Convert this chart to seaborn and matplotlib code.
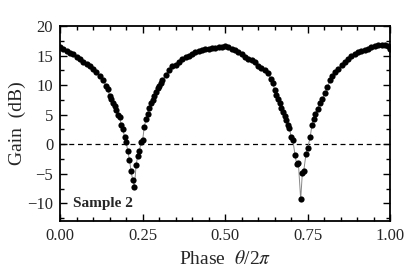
import matplotlib
matplotlib.use('Agg')
import matplotlib.pyplot as plt
from matplotlib.ticker import MultipleLocator
import pandas as pd
import seaborn as sns

# phase (theta / 2pi) and gain (dB)
phase = [0.000, 0.010, 0.020, 0.030, 0.040, 0.050, 0.060, 0.070, 0.080, 0.090,
         0.100, 0.110, 0.120, 0.130, 0.140, 0.145, 0.150, 0.155, 0.160, 0.165,
         0.170, 0.175, 0.180, 0.185, 0.190, 0.195, 0.200, 0.205, 0.210, 0.215,
         0.220, 0.225, 0.230, 0.235, 0.240, 0.245, 0.250, 0.255, 0.260, 0.265,
         0.270, 0.275, 0.280, 0.285, 0.290, 0.295, 0.300, 0.305, 0.310, 0.320,
         0.330, 0.340, 0.350, 0.360, 0.370, 0.380, 0.390, 0.400, 0.410, 0.420,
         0.430, 0.440, 0.450, 0.460, 0.470, 0.480, 0.490, 0.500, 0.510, 0.520,
         0.530, 0.540, 0.550, 0.560, 0.570, 0.580, 0.590, 0.600, 0.610, 0.620,
         0.630, 0.640, 0.645, 0.650, 0.655, 0.660, 0.665, 0.670, 0.675, 0.680,
         0.685, 0.690, 0.695, 0.700, 0.705, 0.712, 0.717, 0.722, 0.729, 0.734,
         0.738, 0.745, 0.750, 0.758, 0.763, 0.768, 0.773, 0.780, 0.788, 0.795,
         0.803, 0.810, 0.818, 0.825, 0.833, 0.843, 0.853, 0.863, 0.873, 0.883,
         0.893, 0.903, 0.913, 0.923, 0.933, 0.943, 0.953, 0.964, 0.975, 0.985,
         0.993, 1.000]
gain = [16.4, 16.1, 15.8, 15.5, 15.3, 14.8, 14.4, 14.0, 13.6, 13.2,
        12.7, 12.2, 11.6, 10.9, 9.8, 9.3, 8.1, 7.6, 7.0, 6.5,
        5.8, 5.0, 4.6, 3.3, 2.5, 1.3, 0.3, -1.1, -2.7, -4.6,
        -6.1, -7.3, -3.6, -2.0, -1.2, 0.3, 0.7, 3.0, 4.2, 5.2,
        6.2, 7.0, 7.5, 8.2, 8.8, 9.5, 9.8, 10.4, 10.8, 11.8,
        12.6, 13.2, 13.5, 13.9, 14.4, 14.7, 15.0, 15.3, 15.6, 15.8,
        16.0, 16.1, 16.2, 16.3, 16.3, 16.4, 16.4, 16.7, 16.4, 16.1,
        15.9, 15.6, 15.2, 14.8, 14.5, 14.3, 14.0, 13.3, 12.9, 12.6,
        12.0, 11.0, 10.3, 9.2, 8.3, 7.7, 6.9, 6.2, 5.4, 4.8,
        4.1, 3.3, 2.7, 1.2, 0.8, -1.9, -3.4, -3.2, -9.3, -4.9,
        -4.6, -1.7, -0.7, 1.3, 3.2, 4.2, 5.2, 6.0, 6.9, 7.7,
        8.6, 9.7, 10.8, 11.5, 12.2, 12.8, 13.4, 14.0, 14.5, 14.9,
        15.3, 15.6, 15.8, 16.0, 16.2, 16.4, 16.6, 16.8, 16.8, 16.8,
        16.7, 16.2]

df = pd.DataFrame({'phase': phase, 'gain': gain})

sns.set_style('ticks')
plt.rcParams['font.family'] = ['Liberation Serif', 'DejaVu Serif']
plt.rcParams['mathtext.fontset'] = 'stix'

fig = plt.figure(figsize=(4.15, 2.78), dpi=100)
ax = fig.add_axes([0.145, 0.205, 0.795, 0.701])

ax.axhline(0, color='black', linestyle='--', linewidth=0.9, dashes=(4, 3))
sns.lineplot(data=df, x='phase', y='gain', ax=ax, color='#888888', linewidth=0.7,
             sort=False)
sns.scatterplot(data=df, x='phase', y='gain', ax=ax, color='black', s=20,
                edgecolor='black', linewidth=0, zorder=3)

ax.set_xlim(0, 1)
ax.set_ylim(-13, 20)
ax.xaxis.set_major_locator(MultipleLocator(0.25))
ax.xaxis.set_minor_locator(MultipleLocator(0.05))
ax.yaxis.set_major_locator(MultipleLocator(5))
ax.yaxis.set_minor_locator(MultipleLocator(2.5))
ax.set_xticks([0, 0.25, 0.5, 0.75, 1.0])
ax.set_xticklabels(['0.00', '0.25', '0.50', '0.75', '1.00'])
ax.tick_params(which='both', direction='in', top=True, right=True, labelsize=12,
               width=1, color='black', pad=5)
ax.tick_params(which='major', length=5)
ax.tick_params(which='minor', length=3)
for s in ax.spines.values():
    s.set_linewidth(1.3)
    s.set_color('black')

ax.set_xlabel(r'Phase  $\mathit{\theta}$/2$\pi$', fontsize=14, labelpad=4)
ax.set_ylabel('Gain  (dB)', fontsize=14, labelpad=1)
ax.text(0.04, 0.055, 'Sample 2', transform=ax.transAxes, fontsize=11,
        fontweight='bold', ha='left', va='bottom')

fig.savefig('out.png', dpi=100)
